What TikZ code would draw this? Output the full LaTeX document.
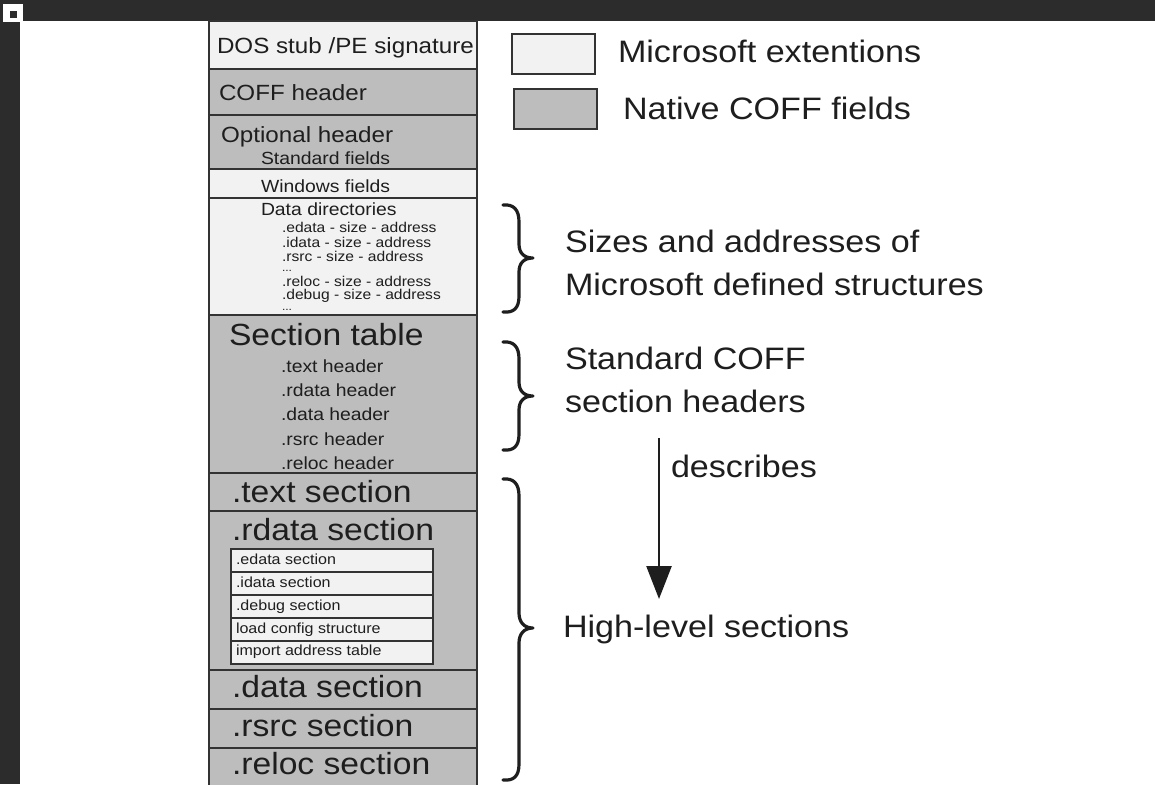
\documentclass[tikz,border=0pt]{standalone}
\usepackage{fontspec}
\setmainfont{Liberation Sans}[FakeStretch=1.1]
\usetikzlibrary{arrows.meta}
\definecolor{bgdark}{HTML}{2C2C2C}
\definecolor{natgray}{HTML}{BDBDBD}
\definecolor{msl}{HTML}{F2F2F2}
\definecolor{ink}{HTML}{1E1E1E}
\definecolor{edge}{HTML}{333333}
\begin{document}
\begin{tikzpicture}[x=1pt,y=-1pt,
  row/.style={draw=edge, line width=2.2pt, anchor=north west, inner sep=0pt, outer sep=0pt, minimum width=268pt},
  native/.style={row, fill=natgray},
  msext/.style={row, fill=msl},
  subrow/.style={draw=edge, line width=1.8pt, fill=msl, anchor=north west, inner sep=0pt, outer sep=0pt, minimum width=202pt, minimum height=23pt},
  legbox/.style={draw=edge, line width=2pt, anchor=north west, inner sep=0pt, minimum width=83pt, minimum height=40pt},
  lbl/.style={anchor=base west, inner sep=0pt, outer sep=0pt, text=ink},
  fhead/.style={lbl, font=\fontsize{22}{26}\selectfont},
  fmid/.style={lbl, font=\fontsize{17.6}{20}\selectfont},
  fsmall/.style={lbl, font=\fontsize{14.2}{16}\selectfont},
  finner/.style={lbl, font=\fontsize{14.6}{16}\selectfont},
  fbig/.style={lbl, font=\fontsize{30.6}{36}\selectfont},
  fside/.style={lbl, font=\fontsize{31}{37}\selectfont},
  bracestyle/.style={draw=ink, line width=3.2pt, line cap=round, line join=round}
]
\useasboundingbox (0,0) rectangle (1155,784);
\fill[white] (0,0) rectangle (1155,784);
% screen frame
\fill[bgdark] (0,0) rectangle (1155,21);
\fill[bgdark] (0,0) rectangle (20,784);
\fill[white] (3,4) rectangle (23,22);
\fill[bgdark] (10,11) rectangle (17,18);

% column rows
\node[msext, minimum height=48pt] (dos) at (209,21) {};
\node[native, minimum height=46pt] (coff) at (209,69) {};
\node[native, minimum height=54pt] (opt) at (209,115) {};
\node[msext, minimum height=29pt] (win) at (209,169) {};
\node[msext, minimum height=117pt] (dd) at (209,198) {};
\node[native, minimum height=158pt] (sect) at (209,315) {};
\node[native, minimum height=38pt] (textsec) at (209,473) {};
\node[native, minimum height=159pt] (rdatasec) at (209,511) {};
\node[native, minimum height=39pt] (datasec) at (209,670) {};
\node[native, minimum height=39pt] (rsrcsec) at (209,709) {};
\node[native, minimum height=50pt] (relocsec) at (209,748) {};

% inner rdata rows
\node[subrow] (edatabox) at (231,549) {};
\node[subrow] (idatabox) at (231,572) {};
\node[subrow] (debugbox) at (231,595) {};
\node[subrow] (loadbox) at (231,618) {};
\node[subrow] (iatbox) at (231,641) {};

% column texts
\node[fhead] (tdos) at (217,53) {DOS stub /PE signature};
\node[fhead] (tcoff) at (219,100) {COFF header};
\node[fhead] (topt) at (221,142) {Optional header};
\node[fmid] (tstd) at (261,164) {Standard fields};
\node[fmid] (twin) at (261,192) {Windows fields};
\node[fmid] (tdd) at (261,215) {Data directories};
\node[fsmall] (l1) at (282,232) {.edata - size - address};
\node[fsmall] (l2) at (282,247) {.idata - size - address};
\node[fsmall] (l3) at (282,261) {.rsrc - size - address};
\node[lbl, font=\fontsize{11}{12}\selectfont] (l4) at (282,271) {...};
\node[fsmall] (l5) at (282,286) {.reloc - size - address};
\node[fsmall] (l6) at (282,299) {.debug - size - address};
\node[lbl, font=\fontsize{11}{12}\selectfont] (l7) at (282,310) {...};
\node[fbig] (tsect) at (229,345) {Section table};
\node[fmid] (h1) at (281,372) {.text header};
\node[fmid] (h2) at (281,396) {.rdata header};
\node[fmid] (h3) at (281,420) {.data header};
\node[fmid] (h4) at (281,445) {.rsrc header};
\node[fmid] (h5) at (281,469) {.reloc header};
\node[fbig] (ttext) at (232,502) {.text section};
\node[fbig] (trdata) at (232,540) {.rdata section};
\node[finner] (i1) at (236,564) {.edata section};
\node[finner] (i2) at (236,587) {.idata section};
\node[finner] (i3) at (236,610) {.debug section};
\node[finner] (i4) at (236,633) {load config structure};
\node[finner] (i5) at (236,655) {import address table};
\node[fbig] (tdata) at (232,697) {.data section};
\node[fbig] (trsrc) at (232,736) {.rsrc section};
\node[fbig] (treloc) at (232,774) {.reloc section};

% legend
\node[legbox, fill=msl] (legms) at (511,33) {};
\node[legbox, fill=natgray] (legnat) at (513,88) {};
\node[fside] (legmst) at (618,63) {Microsoft extentions};
\node[fside] (legnatt) at (623,119) {Native COFF fields};

% braces (curly, tip to the right)
\draw[bracestyle] (503,205) .. controls (514,204) and (519,210) .. (519,222)
  -- (519,244) .. controls (519,253) and (524,258) .. (533,258)
  .. controls (524,258) and (519,263) .. (519,272)
  -- (519,296) .. controls (519,308) and (514,313) .. (503,312);
\draw[bracestyle] (503,342) .. controls (514,341) and (519,347) .. (519,359)
  -- (519,382) .. controls (519,391) and (524,396) .. (533,396)
  .. controls (524,396) and (519,401) .. (519,410)
  -- (519,434) .. controls (519,446) and (514,451) .. (503,450);
\draw[bracestyle] (503,479) .. controls (514,478) and (519,484) .. (519,496)
  -- (519,613) .. controls (519,622) and (524,628) .. (533,628)
  .. controls (524,628) and (519,634) .. (519,643)
  -- (519,764) .. controls (519,776) and (514,781) .. (503,780);

% side texts
\node[fside] (s1) at (565,252) {Sizes and addresses of};
\node[fside] (s2) at (565,295) {Microsoft defined structures};
\node[fside] (s3) at (565,369) {Standard COFF};
\node[fside] (s4) at (565,412) {section headers};
\node[fside] (sdesc) at (671,477) {describes};
\node[fside] (s5) at (563,637) {High-level sections};

% arrow
\coordinate (arrA) at (659,438);
\coordinate (arrB) at (659,599);
\draw[draw=ink, line width=2.5pt, -{Triangle[length=33pt,width=25pt]}] (arrA) -- (arrB);
\end{tikzpicture}
\end{document}
